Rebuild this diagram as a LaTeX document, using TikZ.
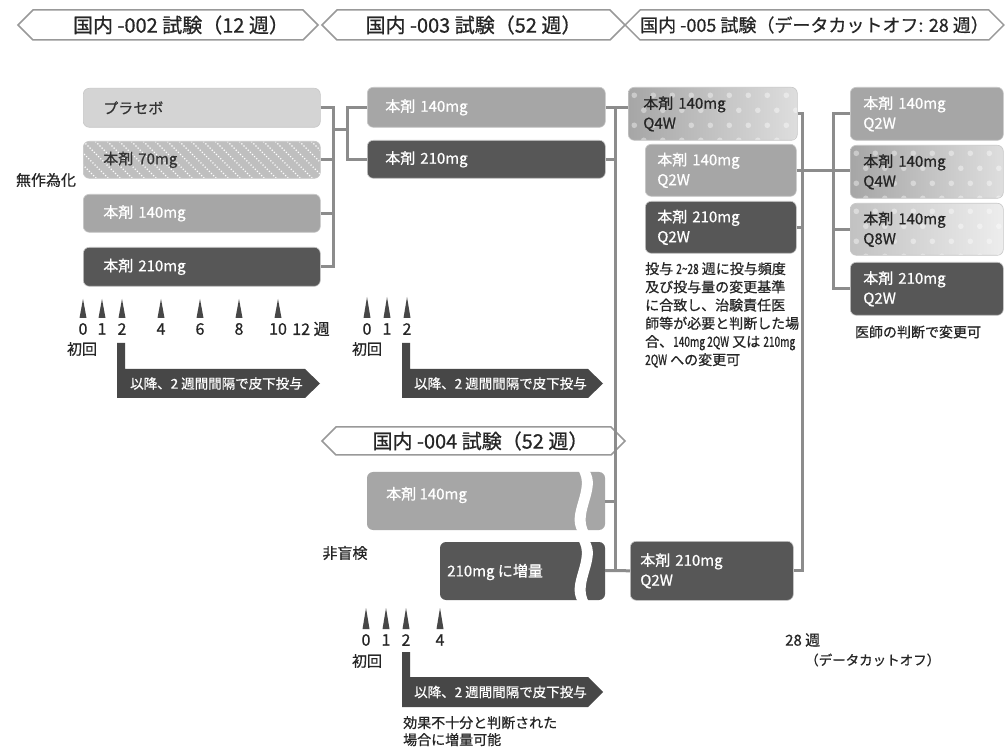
\documentclass[tikz,border=0pt]{standalone}
\usepackage{fontspec}
\setmainfont{Noto Sans CJK JP}[FakeBold=0.7]
\newfontfamily\narrowlat{Noto Sans CJK JP}[FakeBold=0.7, FakeStretch=0.72]
\usetikzlibrary{calc,shapes.symbols}

\tikzset{
  banner/.style={signal, signal to=west and east, signal pointer angle=90,
    draw=black!40, line width=1.5pt, fill=white, minimum height=30pt,
    inner sep=0pt, font=\fontsize{20}{22}\selectfont, text=black!85},
  box/.style={anchor=north west, rounded corners=6pt, align=left, inner ysep=0pt,
    draw=black!22, line width=0.6pt, font=\fontsize{15}{20}\selectfont},
  armpale/.style={fill=black!17, text=black!80},
  armhatch/.style={fill=black!25, text=black!80,
    path picture={\foreach \k in {-60,-48,...,260}{
      \draw[white, line width=1.1pt, dash pattern=on 1.2pt off 1.8pt]
        ($(path picture bounding box.north west)+(\k,0)$) -- ++(50,50);}}},
  armmid/.style={fill=black!35, text=white},
  armdeep/.style={fill=black!66, text=white},
  armdots/.style={left color=black!35, right color=black!13, text=black!85,
    path picture={\foreach \i in {0,...,9}{\foreach \j in {0,...,3}{
      \fill[white, opacity=0.4]
        ($(path picture bounding box.north west)+({\i*19+6+mod(\j,2)*9.5},{\j*15+8})$) circle (2.8pt);}}}},
  link/.style={draw=black!45, line width=3pt},
  tick/.style={fill=black!72},
  wk/.style={font=\fontsize{16}{18}\selectfont, text=black!85, inner sep=0pt},
  band/.style={fill=black!72},
  bandtext/.style={anchor=west, text=white, font=\fontsize{13.5}{15}\selectfont, inner sep=0pt},
  lbl/.style={font=\fontsize{15}{18}\selectfont, text=black!85, inner sep=0pt},
}

\begin{document}
\begin{tikzpicture}[x=1pt,y=-1pt]
\useasboundingbox[fill=white] (0,0) rectangle (1005,751);

% titres des essais
\node[banner, minimum width=300pt] (h1) at (168,25) {\hspace*{26pt}国内 -002 試験（12 週）};
\node[banner, minimum width=303pt] (h2) at (473.5,25) {国内 -003 試験（52 週）};
\node[banner, minimum width=373pt, font=\fontsize{18}{20}\selectfont] (h3) at (814.5,25) {国内 -005 試験（データカットオフ: 28 週）};
\node[banner, minimum width=303pt, minimum height=28pt] (h4) at (473.5,441) {\hspace*{14pt}国内 -004 試験（52 週）};

% 002 : bras randomisés
\node[box, armpale, text width=197pt, inner xsep=20pt, minimum height=39pt] (p1) at (83,88) {プラセボ};
\node[box, armhatch, text width=197pt, inner xsep=20pt, minimum height=37pt] (p2) at (83,141) {本剤 70mg};
\node[box, armmid, text width=197pt, inner xsep=20pt, minimum height=38pt] (p3) at (83,194) {本剤 140mg};
\node[box, armdeep, text width=197pt, inner xsep=20pt, minimum height=39pt] (p4) at (83,247) {本剤 210mg};
\node[lbl] (rand) at (46,180) {無作為化};

% 003
\node[box, armmid, text width=202pt, inner xsep=18pt, minimum height=40pt] (b1) at (367,87) {本剤 140mg};
\node[box, armdeep, text width=202pt, inner xsep=18pt, minimum height=38pt] (b2) at (367,140) {本剤 210mg};

% 005
\node[box, armdots, text width=139pt, inner xsep=15pt, minimum height=53pt] (c1) at (628,87) {本剤 140mg\\Q4W};
\node[box, armmid, text width=127pt, inner xsep=12pt, minimum height=52pt] (c2) at (645,144) {本剤 140mg\\Q2W};
\node[box, armdeep, text width=127pt, inner xsep=12pt, minimum height=52pt] (c3) at (645,201) {本剤 210mg\\Q2W};
\node[box, armdeep, text width=143pt, inner xsep=10pt, minimum height=59pt] (c4) at (630,541) {本剤 210mg\\Q2W};
\node[anchor=north west, align=left, inner sep=0pt, text=black!85,
  font=\fontsize{14}{18.2}\selectfont] (crit) at (645,262)
  {投与 {\narrowlat 2\textasciitilde 28} 週に投与頻度\\及び投与量の変更基準\\に合致し、治験責任医\\師等が必要と判断した場\\合、{\narrowlat 140mg 2QW} 又は {\narrowlat 210mg}\\{\narrowlat 2QW} への変更可};

% après la coupure
\node[box, armmid, text width=127pt, inner xsep=13pt, minimum height=53pt] (r1) at (850,87) {本剤 140mg\\Q2W};
\node[box, armdots, text width=127pt, inner xsep=13pt, minimum height=53pt] (r2) at (850,145) {本剤 140mg\\Q4W};
\node[box, armdots, left color=black!24, right color=black!7, text width=127pt, inner xsep=13pt, minimum height=52pt] (r3) at (850,203) {本剤 140mg\\Q8W};
\node[box, armdeep, text width=127pt, inner xsep=13pt, minimum height=53pt] (r4) at (850,262) {本剤 210mg\\Q2W};
\node[lbl, font=\fontsize{14}{16}\selectfont] (judge) at (918,332) {医師の判断で変更可};

% 004 : barres coupées
\fill[black!35, rounded corners=6pt] (367,472) rectangle (605,530);
\fill[black!66, rounded corners=6pt] (440,542) rectangle (605,600);
\fill[white] (578,470) .. controls (591,489) and (566,513) .. (578,532) -- (589,532) .. controls (577,513) and (602,489) .. (589,470) -- cycle;
\fill[white] (578,540) .. controls (591,559) and (566,583) .. (578,602) -- (589,602) .. controls (577,583) and (602,559) .. (589,540) -- cycle;
\node[lbl, anchor=west, text=white] (k1) at (386,495) {本剤 140mg};
\node[lbl, anchor=west, text=white] (k2) at (447,572) {210mg に増量};
\coordinate (k1e) at (605,501);
\coordinate (k2e) at (605,570.5);
\node[lbl] (open) at (345,553) {非盲検};

% liaisons
\coordinate (j1) at (333,130);
\coordinate (j2) at (347,130);
\draw[link] (p1.east) -- ++(13,0) |- (p4.east);
\draw[link] (p2.east) -- (p2.east -| j1);
\draw[link] (p3.east) -- (p3.east -| j1);
\draw[link] (j1) -- (j2);
\draw[link] (b1.west) -- ++(-20,0) |- (b2.west);
\coordinate (v1) at (615,107);
\draw[link] (b1.east) -- (b1.east -| c1.west);
\draw[link] (v1) -- (v1 |- c4.west);
\draw[link] (b2.east) -- (b2.east -| v1);
\draw[link] (k1e) -- (k1e -| v1);
\draw[link] (k2e) -- (c4.west);
\draw[link] (c1.east) -- ++(5,0) |- (c4.east);
\draw[link] (c3.east) -- ++(6,0);
\draw[link] (c2.east) -- (c2.east -| r2.west);
\draw[link] (r1.west) -- ++(-17,0) |- (r4.west);
\draw[link] (r3.west) -- ++(-17,0);

% semaines 002
\foreach \w/\x in {0/83,1/102,2/122,4/161,6/200,8/239,10/278}{
  \fill[tick] (\x-3.5,318) -- (\x,299) -- (\x+3.5,318) -- cycle;
  \node[wk] (a\w) at (\x,329) {\w};
}
\node[wk] (a12) at (311,329) {12 週};
\node[lbl] (first1) at (82,349) {初回};
\fill[band] (117,343) -- (125,343) -- (125,369) -- (305,369) -- (320,383.5) -- (305,398) -- (117,398) -- cycle;
\node[bandtext] (arr1) at (130,383.5) {以降、2 週間間隔で皮下投与};

% semaines 003
\foreach \w/\x in {0/367,1/387,2/407}{
  \fill[tick] (\x-3.5,318) -- (\x,297) -- (\x+3.5,318) -- cycle;
  \node[wk] (b\w) at (\x,329) {\w};
}
\node[lbl] (first2) at (367,349) {初回};
\fill[band] (402,343) -- (410,343) -- (410,369) -- (588,369) -- (603,383.5) -- (588,398) -- (402,398) -- cycle;
\node[bandtext] (arr2) at (414,383.5) {以降、2 週間間隔で皮下投与};

% semaines 004
\foreach \w/\x in {0/366,1/386,2/406,4/440}{
  \fill[tick] (\x-3.5,629) -- (\x,608) -- (\x+3.5,629) -- cycle;
  \node[wk] (d\w) at (\x,640) {\w};
}
\node[lbl] (first3) at (367,661) {初回};
\fill[band] (402,652) -- (410,652) -- (410,677) -- (588,677) -- (603,692) -- (588,707) -- (402,707) -- cycle;
\node[bandtext] (arr3) at (414,692) {以降、2 週間間隔で皮下投与};
\node[anchor=north west, align=left, inner sep=0pt, text=black!85,
  font=\fontsize{14}{17}\selectfont] (eff) at (403,716) {効果不十分と判断された\\場合に増量可能};

% coupure des données
\node[lbl, anchor=west] (cut) at (785,640) {28 週};
\node[lbl, anchor=west, font=\fontsize{13.5}{15}\selectfont] (cutoff) at (805,660) {（データカットオフ）};
\end{tikzpicture}
\end{document}
